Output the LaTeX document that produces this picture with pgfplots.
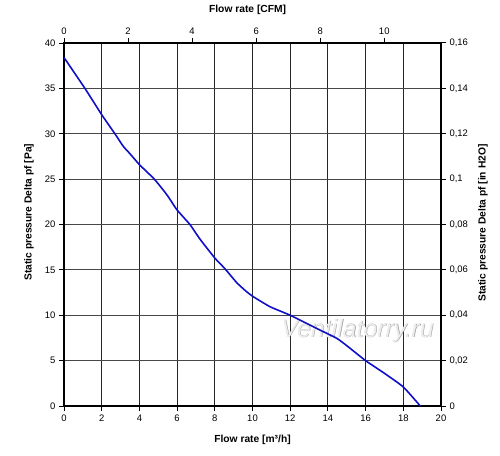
\documentclass[border=0pt]{standalone}
\usepackage{pgfplots}
\pgfplotsset{compat=1.18}
\usepackage{fontspec}
\setmainfont{Liberation Sans}
\definecolor{curveblue}{RGB}{15,15,200}
\begin{document}
\begin{tikzpicture}
\useasboundingbox (-64bp,-50bp) rectangle (436bp,406bp);
\pgfplotsset{
  every axis/.append style={
    scale only axis, width=377bp, height=363bp,
    at={(0,0)}, anchor=south west,
    tick align=outside, major tick length=5bp,
    tick style={black, line width=1bp},
    axis line style={black, line width=1.2bp},
    tick label style={font=\fontsize{9.5}{10}\selectfont},
    label style={font=\fontsize{10.3}{11}\selectfont\bfseries},
    /pgf/number format/assume math mode=true,
  }
}
\begin{axis}[
  xmin=0, xmax=20, ymin=0, ymax=40,
  xtick={0,2,...,20}, ytick={0,5,...,40},
  xtick pos=bottom, ytick pos=left,
  grid=major,
  x grid style={black!85, line width=0.9bp},
  y grid style={black!72, line width=0.9bp},
  xlabel={Flow rate [m³/h]},
  xlabel style={at={(axis description cs:0.5,-0.0937)}, anchor=center},
  ylabel={Static pressure Delta pf [Pa]},
  ylabel style={at={(axis description cs:-0.0928,0.534)}, anchor=center},
]
\node[text=black!40, font=\fontsize{25}{25}\selectfont\itshape] at (axis cs:15.6,8.25) {Ventilatorry.ru};
\node[text=black!7, font=\fontsize{25}{25}\selectfont\itshape] at (axis cs:15.57,8.3) {Ventilatorry.ru};
\addplot[curveblue, line width=1.6bp, line join=round, smooth, tension=0.3] coordinates {
(0,38.4) (1.11,35) (2,32.1) (2.7,30) (3.15,28.6) (3.5,27.8)
(4,26.6) (4.79,25) (5.45,23.3) (6,21.6) (6.68,20) (7.21,18.4) (8,16.3)
(8.28,15.7) (8.59,15) (9.16,13.6) (9.6,12.75) (10,12.1) (10.93,10.94) (12,10)
(13.58,8.37) (14.47,7.46) (15,6.65) (16,5) (17,3.6) (18,2.1) (18.9,0)
};
\end{axis}
\begin{axis}[
  xmin=0, xmax=11.772, ymin=0, ymax=0.16,
  axis x line*=top, axis y line*=right,
  xtick={0,2,...,10},
  ytick={0,0.02,0.04,0.06,0.08,0.1,0.12,0.14,0.16},
  yticklabels={0,{0,02},{0,04},{0,06},{0,08},{0,1},{0,12},{0,14},{0,16}},
  xlabel={Flow rate [CFM]},
  xlabel style={at={(axis description cs:0.487,1.0909)}, anchor=center},
  ylabel={Static pressure Delta pf [in H2O]},
  ylabel style={at={(axis description cs:1.1114,0.504)}, anchor=center},
]
\end{axis}
\end{tikzpicture}
\end{document}
